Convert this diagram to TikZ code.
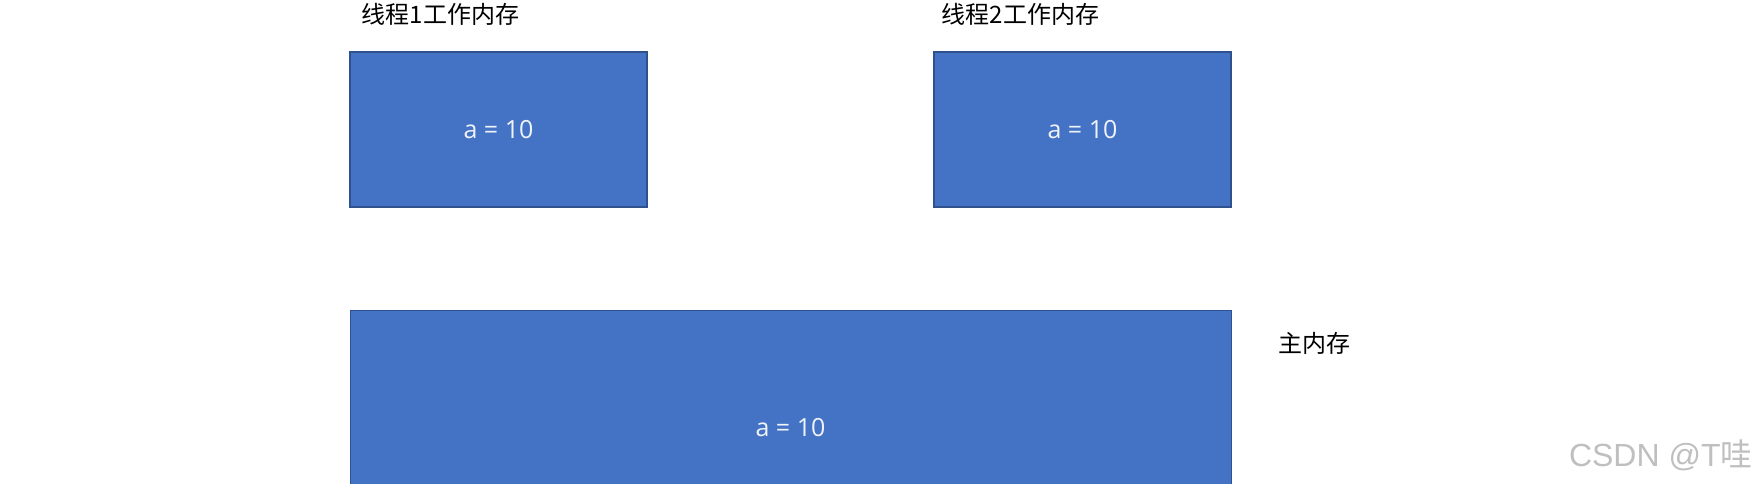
\documentclass[tikz,border=0pt]{standalone}
\usepackage{fontspec}
\setmainfont{Noto Sans CJK SC}
\newfontfamily\valfont{Open Sans}
\newfontfamily\wmfont{Liberation Sans}
\usetikzlibrary{positioning}
\definecolor{boxblue}{HTML}{4472C4}
\definecolor{boxline}{HTML}{2F528F}

\begin{document}
\begin{tikzpicture}[x=1pt, y=1pt,
    mem/.style = {draw=boxline, line width=0.6pt, fill=boxblue, text=white!92!boxblue,
                  minimum width=148.5pt, minimum height=77.5pt, inner sep=0pt,
                  font=\valfont\fontsize{12.5}{14}\selectfont},
    title/.style = {inner sep=0pt, anchor=west, font=\fontsize{12}{14}\selectfont}]
    \useasboundingbox (0,0) rectangle (876.5,241.5);
    \clip (0,0) rectangle (876.5,241.5);
    % working memory of the two threads
    \node[mem] (w1) at (249.25,176.75) {a = 10};
    \node[mem] (w2) at (541.25,176.75) {a = 10};
    \node[title] (t1) at ([xshift=6pt, yshift=18.5pt]w1.north west) {线程1工作内存};
    \node[title] (t2) at ([xshift=4pt, yshift=18.5pt]w2.north west) {线程2工作内存};
    % main memory
    \node[mem, minimum width=440.5pt, minimum height=118pt, anchor=north west] (m) at (175,86.5) {};
    \node[text=white!92!boxblue, font=\valfont\fontsize{12.5}{14}\selectfont] (mv) at (395.25,27.5) {a = 10};
    \node[title] (tm) at ([xshift=23pt, yshift=-16.5pt]m.north east) {主内存};
    \node[inner sep=0pt, anchor=east, text=gray!50, font=\wmfont\fontsize{16}{18}\selectfont] (wm) at (876.5,14) {CSDN @T{\rmfamily 哇}};
\end{tikzpicture}
\end{document}
